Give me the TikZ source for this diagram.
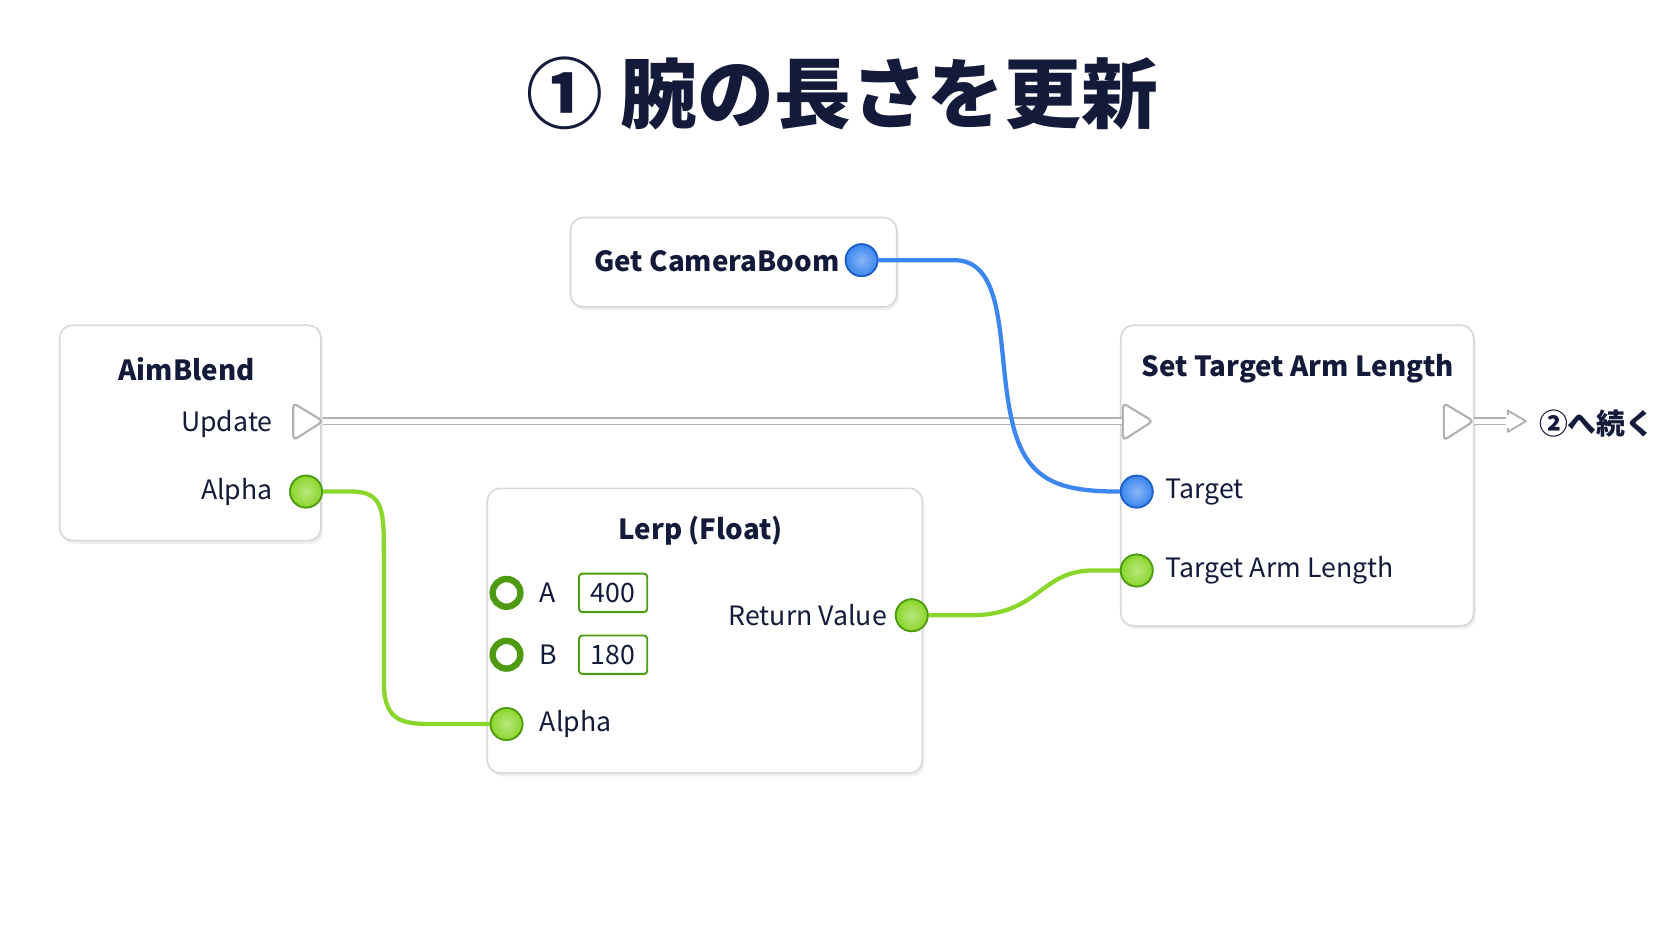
\documentclass[tikz,border=0pt]{standalone}
\usepackage{fontspec}
\setmainfont{Noto Sans CJK JP}
\usetikzlibrary{shadows}
\definecolor{navy}{HTML}{141B3A}
\definecolor{gr}{HTML}{8AD62A}
\definecolor{grd}{HTML}{4E9A10}
\definecolor{bl}{HTML}{3B86F0}
\definecolor{bld}{HTML}{1E5FC8}
\begin{document}
\begin{tikzpicture}[x=0.5pt,y=-0.5pt,
  box/.style={draw=black!15,fill=white,rounded corners=6pt,line width=0.8pt,drop shadow={opacity=0.12,shadow xshift=1pt,shadow yshift=-1.5pt}},
  txt/.style={text=navy,font=\fontsize{12.5}{14}\selectfont,inner sep=0pt},
  ttl/.style={text=navy,font=\fontsize{13}{15}\selectfont\bfseries,inner sep=0pt},
  gpin/.style={circle,minimum size=15pt,inner sep=0pt,draw=grd,line width=0.8pt,inner color=gr!60!white,outer color=gr},
  bpin/.style={circle,minimum size=15pt,inner sep=0pt,draw=bld,line width=0.8pt,inner color=bl!60!white,outer color=bl},
  rpin/.style={circle,minimum size=13pt,inner sep=0pt,draw=grd,line width=3pt,fill=white},
  vbox/.style={draw=grd,line width=0.9pt,rounded corners=1.5pt,minimum width=32pt,minimum height=18pt,inner sep=0pt,text=navy,font=\fontsize{12.5}{14}\selectfont},
  gw/.style={draw=gr,line width=2pt},
  bw/.style={draw=bl,line width=2pt}]
\fill[white] (0,0) rectangle (1568,882);
\useasboundingbox (0,0) rectangle (1568,882);
\node[text=navy,font=\fontsize{36}{42}\selectfont\bfseries] (title) at (790,88) {① 腕の長さを更新};
% boxes
\draw[box] (535,204) rectangle (841,288);
\draw[box] (56,305) rectangle (301,507);
\draw[box] (457,458) rectangle (865,725);
\draw[box] (1051,305) rectangle (1382,587);
% texts
\node[ttl,anchor=west] (gcb) at (557,245) {Get CameraBoom};
\node[ttl] (aim) at (175,346) {AimBlend};
\node[txt,anchor=east] (upd) at (256,398) {Update};
\node[txt,anchor=east] (alp) at (256,461) {Alpha};
\node[ttl] (lerp) at (657,498) {Lerp (Float)};
\node[txt] (la) at (514,556) {A};
\node[txt] (lb) at (514,614) {B};
\node[vbox] (v400) at (575,556) {400};
\node[vbox] (v180) at (575,614) {180};
\node[txt,anchor=west] (lalp) at (506,679) {Alpha};
\node[txt,anchor=east] (ret) at (832,577) {Return Value};
\node[ttl] (st) at (1217,346) {Set Target Arm Length};
\node[txt,anchor=west] (tg) at (1093,461) {Target};
\node[txt,anchor=west] (tal) at (1093,535) {Target Arm Length};
\node[text=navy,font=\fontsize{13.5}{16}\selectfont\bfseries,anchor=west,inner sep=0pt] (cont) at (1443,397) {②へ続く};
% exec wire
\coordinate (e1) at (303,395);
\coordinate (e2) at (1053,395);
\draw[black!30,line width=4pt] (e1) -- (e2);
\draw[white,line width=2.2pt] (e1) -- (e2);
\coordinate (o1) at (1382,395);
\coordinate (o2) at (1416,395);
\draw[black!30,line width=4pt] (o1) -- (o2);
\draw[white,line width=2.2pt] (o1) -- (o2);
\draw[black!30,line width=0.9pt,fill=white,line join=round] (1414,385) -- (1431,395) -- (1414,405) -- cycle;
\fill[white] (1412,389) rectangle (1416,401);
% exec pins
\foreach \x in {275,1053,1354}{
 \draw[black!30,fill=white,line width=1pt,rounded corners=2pt] (\x,378) -- (\x+28,395) -- (\x,413) -- cycle;
}
% pins
\node[bpin] (pg) at (808,244) {};
\node[bpin] (pt) at (1066,461) {};
\node[gpin] (pa) at (287,461) {};
\node[gpin] (pla) at (475,679) {};
\node[gpin] (pr) at (855,577) {};
\node[gpin] (ptal) at (1066,535) {};
\node[rpin] (pA) at (475,556) {};
\node[rpin] (pB) at (475,614) {};
% wires
\draw[bw] (pg.east) -- (895,244) .. controls (945,244) and (935,330) .. (948,390) .. controls (960,450) and (990,461) .. (pt.west);
\draw[gw] (pa.east) -- (330,461) .. controls (360,461) and (360,480) .. (360,520) -- (360,640) .. controls (360,679) and (380,679) .. (410,679) -- (pla.west);
\draw[gw] (pr.east) -- (910,577) .. controls (975,577) and (975,535) .. (1025,535) -- (ptal.west);
\node[bpin] at (pg) {};
\node[bpin] at (pt) {};
\node[gpin] at (pa) {};
\node[gpin] at (pla) {};
\node[gpin] at (pr) {};
\node[gpin] at (ptal) {};
\end{tikzpicture}
\end{document}
